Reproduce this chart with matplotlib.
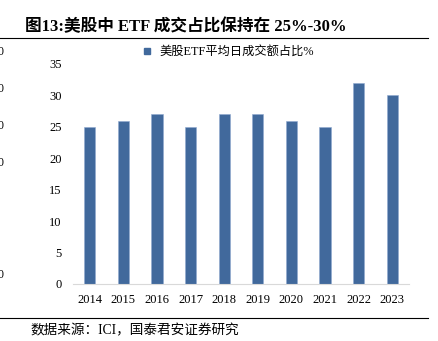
import matplotlib.pyplot as plt
from matplotlib.lines import Line2D

years = ['2014', '2015', '2016', '2017', '2018', '2019', '2020', '2021', '2022', '2023']
etf_share = [25, 26, 27, 25, 27, 27, 26, 25, 32, 30]
y_ticks = [0, 5, 10, 15, 20, 25, 30, 35]

title = '图13:美股中 ETF 成交占比保持在 25%-30%'
legend_label = '美股ETF平均日成交额占比%'
source = '数据来源：ICI，国泰君安证券研究'

serif = ['Liberation Serif', 'Noto Sans CJK SC', 'DejaVu Sans']
bar_color = '#41699C'

fig = plt.figure(figsize=(4.39, 3.41), dpi=100)
ax = fig.add_axes([73 / 439, 57 / 341, 336 / 439, 220 / 341])

x = range(len(years))
ax.bar(x, etf_share, width=0.33, color=bar_color, edgecolor='#8FAAD0', linewidth=0.4)
ax.set_xlim(-0.5, len(years) - 0.5)
ax.set_ylim(0, 35)
ax.set_yticks(y_ticks)
ax.set_yticklabels([str(t) for t in y_ticks], family=serif, fontsize=9)
ax.set_xticks(list(x))
ax.set_xticklabels(years, family=serif, fontsize=9)
ax.tick_params(length=0, pad=7)
ax.tick_params(axis='y', pad=8)
for side in ['left', 'right', 'top']:
    ax.spines[side].set_visible(False)
ax.spines['bottom'].set_color('#D9D9D9')
ax.spines['bottom'].set_linewidth(0.8)

handle = Line2D([], [], marker='s', linestyle='None', color=bar_color, markersize=5)
ax.legend([handle], [legend_label], loc='upper center', bbox_to_anchor=(0.45, 1.105),
          frameon=False, prop={'family': serif, 'size': 8.8},
          handletextpad=0.05, borderaxespad=0)

# title, rules and source note
fig.text(25 / 439, 1 - 27 / 341, title, family=serif, fontsize=12,
         fontweight='bold', va='center', ha='left')
fig.add_artist(Line2D([0, 428 / 439], [1 - 38 / 341] * 2, color='black', linewidth=0.8))
fig.add_artist(Line2D([0, 428 / 439], [1 - 318 / 341] * 2, color='black', linewidth=0.8))
fig.text(30 / 439, 1 - 331 / 341, source, family=serif, fontsize=9.8, va='center', ha='left')

# cut-off labels of the neighbouring chart at the left edge
for ypix in [52, 89, 126, 163, 275]:
    fig.text(-3 / 439, 1 - ypix / 341, '0', family=serif, fontsize=8.5, va='center', ha='left')

fig.savefig('out.png', dpi=100)
